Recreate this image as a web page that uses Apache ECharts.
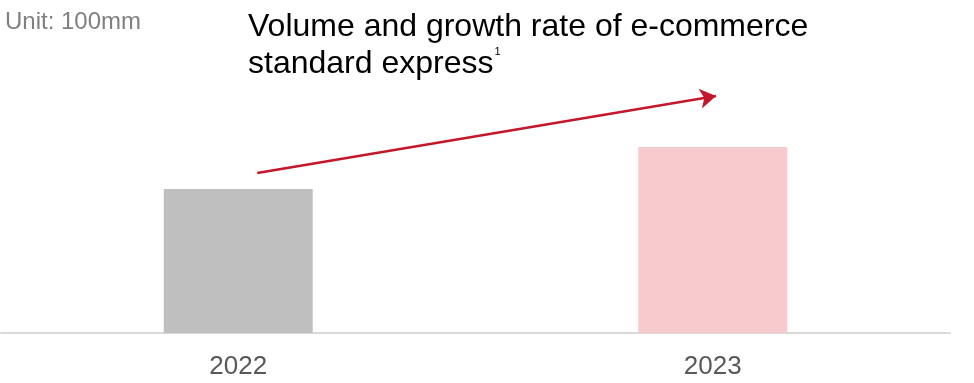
<!DOCTYPE html>
<html>
<head>
<meta charset="utf-8">
<script src="https://cdn.jsdelivr.net/npm/echarts@6/dist/echarts.min.js"></script>
<style>
  html, body { margin: 0; padding: 0; background: #fff; }
  #chart { width: 974px; height: 383px; }
</style>
</head>
<body>
<div id="chart"></div>
<script>
// categories and values (unit: 100mm)
var years = ['2022', '2023']
var volume = [144, 186]
var barColors = ['#bfbfbf', '#f7cbce']
// growth arrow, in data units: [x position on a 0..1 category scale, value]
var arrowFrom = [0.04, 160]
var arrowTo = [1.007, 237]

var chart = echarts.init(document.getElementById('chart'))

var option = {
  animation: false,
  textStyle: { fontFamily: 'Liberation Sans, Arial, sans-serif' },
  title: [
    {
      text: 'Volume and growth rate of e-commerce\nstandard express{sup|1}',
      left: 243,
      top: 4,
      textStyle: {
        fontSize: 32,
        fontWeight: 'normal',
        color: '#000',
        lineHeight: 37,
        rich: {
          sup: { fontSize: 11, verticalAlign: 'top', padding: [0, 0, 2, 1], color: '#000' }
        }
      }
    },
    {
      text: 'Unit: 100mm',
      left: 0,
      top: 5,
      textStyle: { fontSize: 24, fontWeight: 'normal', color: '#808080' }
    }
  ],
  grid: { left: 1, right: 24, top: 33, bottom: 50 },
  xAxis: [
    {
      type: 'category',
      data: years,
      axisTick: { show: false },
      axisLine: { lineStyle: { color: '#d9d9d9', width: 2 } },
      axisLabel: { color: '#595959', fontSize: 26, margin: 21 }
    },
    {
      type: 'value',
      min: -0.5,
      max: 1.5,
      show: false
    }
  ],
  yAxis: {
    type: 'value',
    min: 0,
    max: 300,
    show: false,
    splitLine: { show: false }
  },
  series: [
    {
      type: 'bar',
      barWidth: 149,
      data: volume.map(function (v, i) {
        return { value: v, itemStyle: { color: barColors[i] } }
      })
    },
    {
      type: 'line',
      xAxisIndex: 1,
      data: [],
      markLine: {
        silent: true,
        symbol: ['none', 'arrow'],
        symbolSize: [15, 16],
        label: { show: false },
        lineStyle: { color: '#c5172c', width: 2.5, type: 'solid' },
        data: [[{ coord: arrowFrom }, { coord: arrowTo }]]
      }
    }
  ]
}

chart.setOption(option)
</script>
</body>
</html>
